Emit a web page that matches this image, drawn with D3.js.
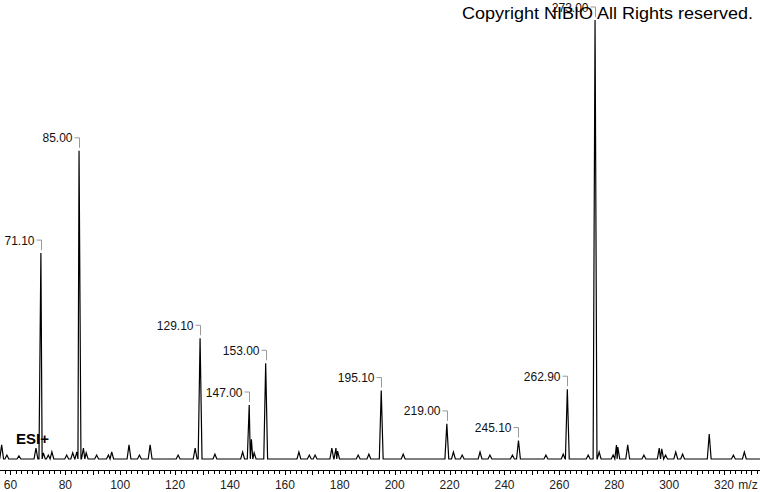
<!DOCTYPE html>
<html>
<head>
<meta charset="utf-8">
<script src="https://cdn.jsdelivr.net/npm/d3@7"></script>
<style>
  html, body { margin: 0; padding: 0; background: #fff; }
  svg { display: block; }
</style>
</head>
<body>
<div id="chart"></div>
<script>
// スペクトルのデータ（m/z と相対強度）------------------------------------------------------
const peakMz = [56.8, 58.7, 63.1, 69.3, 71.1, 72.0, 73.8, 75.1, 80.5, 82.7, 84.2, 85.0, 86.6, 87.6,
  91.4, 95.7, 96.9, 103.2, 107.0, 110.9, 121.1, 127.3, 129.1, 134.5, 144.6, 147.0, 147.8, 148.8,
  153.0, 165.1, 168.9, 171.0, 177.1, 178.6, 179.2, 186.7, 190.6, 195.1, 203.1, 219.0, 221.4,
  224.6, 231.1, 234.7, 242.9, 245.1, 255.1, 261.4, 262.9, 270.5, 273.0, 274.5, 279.6, 280.8,
  281.3, 284.9, 290.8, 296.4, 297.3, 298.7, 302.4, 304.9, 314.6, 323.4, 327.4];
const peakInt = [3.2, 0.9, 0.7, 2.5, 46.9, 1.4, 0.9, 1.6, 0.9, 1.4, 1.6, 70.2, 2.5, 1.4,
  0.9, 0.9, 1.6, 3.2, 0.9, 3.2, 0.9, 2.5, 27.5, 1.1, 1.6, 12.3, 4.5, 1.4,
  21.8, 1.6, 0.9, 0.9, 2.5, 2.5, 1.8, 0.9, 1.1, 15.6, 1.1, 8.0, 1.6,
  0.9, 1.6, 0.9, 0.9, 4.2, 0.9, 1.1, 15.9, 0.9, 100, 1.6, 0.9, 3.2,
  2.7, 3.2, 0.9, 2.5, 2.3, 0.9, 1.6, 1.1, 5.7, 0.9, 1.6];
// ラベル付きピーク--------------------------------------------------------------------------
const labelMz = [71.1, 85.0, 129.1, 147.0, 153.0, 195.1, 219.0, 245.1, 262.9, 273.0];
const labelText = ['71.10', '85.00', '129.10', '147.00', '153.00', '195.10', '219.00', '245.10', '262.90', '273.00'];
// 軸目盛り---------------------------------------------------------------------------------
const tickValues = [60, 80, 100, 120, 140, 160, 180, 200, 220, 240, 260, 280, 300, 320];

const width = 760, height = 492;
const svg = d3.select('#chart').append('svg')
  .attr('width', width)
  .attr('height', height);

// スケール----------------------------------------------------------------------------------
const xScale = d3.scaleLinear().domain([56.2, 333.1]).range([0, width]);
const yScale = d3.scaleLinear().domain([0, 100]).range([459, 20]);
const axisY = 470;

// スペクトル線（各ピークを細い三角形で描く）-----------------------------------------------
const pts = [[xScale.domain()[0], 0]];
peakMz.forEach((m, i) => {
  const prev = i > 0 ? peakMz[i - 1] : -Infinity;
  const next = i < peakMz.length - 1 ? peakMz[i + 1] : Infinity;
  const wl = Math.min(0.7, (m - prev) / 2);
  const wr = Math.min(0.7, (next - m) / 2);
  pts.push([m - wl, 0], [m, peakInt[i]], [m + wr, 0]);
});
pts.push([xScale.domain()[1], 0]);
const line = d3.line()
  .x(d => xScale(d[0]))
  .y(d => yScale(d[1]));
svg.append('path')
  .attr('d', line(pts))
  .attr('fill', 'none')
  .attr('stroke', '#000')
  .attr('stroke-width', 1.2)
  .attr('stroke-linejoin', 'miter');

// ピークラベル-----------------------------------------------------------------------------
labelMz.forEach((m, i) => {
  const idx = peakMz.indexOf(m);
  const px = Math.round(xScale(m)) + 0.5;
  const top = yScale(peakInt[idx]);
  svg.append('path')
    .attr('d', 'M' + (px - 5) + ',' + (top - 13) + 'H' + px + 'V' + (top - 3))
    .attr('fill', 'none')
    .attr('stroke', '#999')
    .attr('stroke-width', 1);
  svg.append('text')
    .attr('x', px - 7)
    .attr('y', top - 8.5)
    .attr('text-anchor', 'end')
    .attr('font-family', 'Liberation Sans, Arial, sans-serif')
    .attr('font-size', '12px')
    .attr('fill', '#111')
    .text(labelText[i]);
});

// 横軸--------------------------------------------------------------------------------------
const gX = svg.append('g').attr('transform', 'translate(0,' + axisY + ')');
gX.append('line')
  .attr('x1', 0).attr('x2', width)
  .attr('y1', 0.5).attr('y2', 0.5)
  .attr('stroke', '#000');
const minor = d3.range(58, 334, 2);
gX.selectAll('.tick-minor')
  .data(minor)
  .enter()
  .append('line')
  .attr('x1', d => Math.round(xScale(d)) + 0.5)
  .attr('x2', d => Math.round(xScale(d)) + 0.5)
  .attr('y1', 0.5)
  .attr('y2', d => d % 10 === 0 ? 5 : 4)
  .attr('stroke', '#000');
gX.selectAll('.tick-label')
  .data(tickValues)
  .enter()
  .append('text')
  .attr('x', d => xScale(d))
  .attr('y', 19)
  .attr('text-anchor', 'middle')
  .attr('font-family', 'Liberation Sans, Arial, sans-serif')
  .attr('font-size', '12px')
  .attr('fill', '#222')
  .text(d => d);
gX.append('text')
  .attr('x', 748)
  .attr('y', 19)
  .attr('text-anchor', 'middle')
  .attr('font-family', 'Liberation Sans, Arial, sans-serif')
  .attr('font-size', '12px')
  .attr('fill', '#222')
  .text('m/z');

// ESI+ ---------------------------------------------------------------------------------------
svg.append('text')
  .attr('x', 16)
  .attr('y', 444)
  .attr('font-family', 'Liberation Sans, Arial, sans-serif')
  .attr('font-weight', 'bold')
  .attr('font-size', '15px')
  .attr('fill', '#000')
  .text('ESI+');

// コピーライト------------------------------------------------------------------------------
svg.append('text')
  .attr('x', 462)
  .attr('y', 19)
  .attr('textLength', 291)
  .attr('lengthAdjust', 'spacingAndGlyphs')
  .attr('font-family', 'Liberation Sans, Arial, sans-serif')
  .attr('font-size', '17px')
  .attr('fill', '#000')
  .text('Copyright NIBIO All Rights reserved.');
</script>
</body>
</html>
